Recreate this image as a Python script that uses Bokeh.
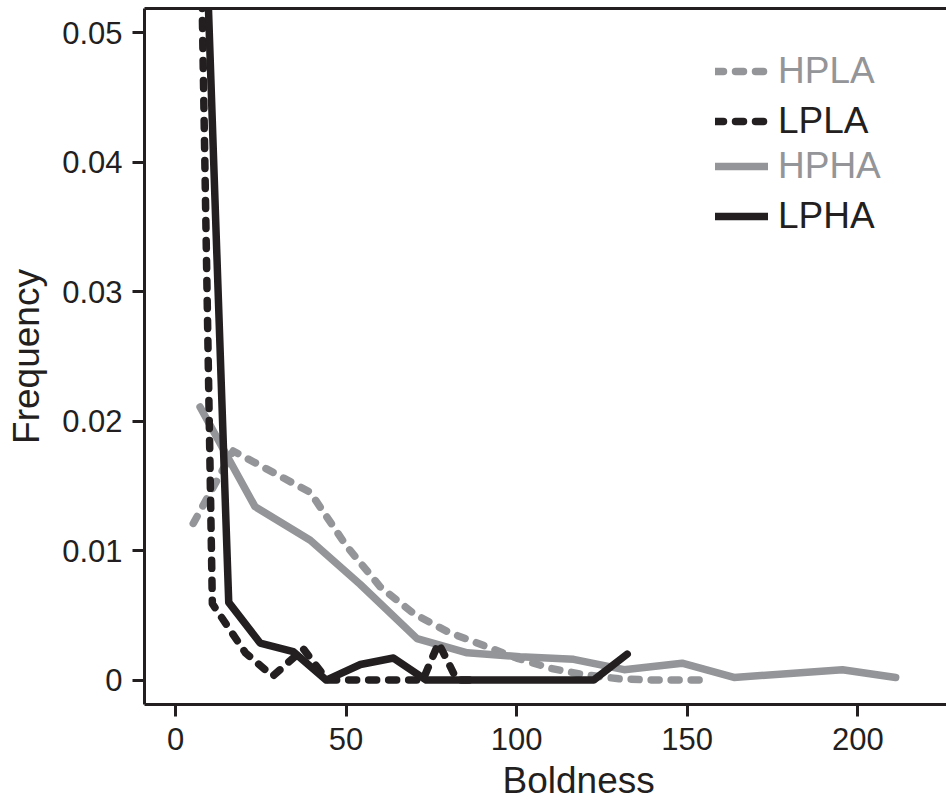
from bokeh.plotting import figure
from bokeh.models import Range1d, LinearAxis, FixedTicker, Legend, LegendItem, Title
from bokeh.embed import file_html
from bokeh.resources import INLINE

# ---- data ----
x_ticks = [0, 50, 100, 150, 200]
y_ticks = [0, 0.01, 0.02, 0.03, 0.04, 0.05]
y_tick_labels = ["0", "0.01", "0.02", "0.03", "0.04", "0.05"]

hpla_x = [5.2, 16.9, 27.5, 39.5, 50, 60, 70, 80, 90, 100, 110, 120, 130, 140, 154]
hpla_y = [0.0121, 0.0177, 0.0162, 0.0145, 0.0104, 0.0072, 0.0051, 0.0037, 0.0027,
          0.0017, 0.0009, 0.0004, 0.0001, 0.0, 0.0]

lpla_x = [6.5, 10.8, 20.5, 28.5, 37.5, 44.5, 54, 64, 72.5, 77.1, 82.5, 88]
lpla_y = [0.0726, 0.0059, 0.0021, 0.0003, 0.0024, 0.0, 0.0, 0.0, 0.0, 0.00286, 0.0, 0.0]

hpha_x = [7.2, 23.3, 39.5, 54.1, 70.8, 85.5, 101, 116.7, 131.5, 148.5, 163.7, 195.5, 211.1]
hpha_y = [0.0211, 0.0134, 0.0108, 0.0074, 0.0032, 0.0021, 0.0018, 0.0016, 0.0008,
          0.0013, 0.0002, 0.0008, 0.0002]

lpha_x = [6.5, 15.6, 24.8, 34.5, 44.2, 54.2, 63.9, 73.5, 83, 93, 103, 113, 122.6, 132.4]
lpha_y = [0.0763, 0.0060, 0.00286, 0.0022, 0.0, 0.0012, 0.0017, 0.0, 0.0, 0.0, 0.0, 0.0,
          0.0, 0.0020]

GREY = "#939598"
BLACK = "#231f20"
FONT = "Liberation Sans"

p = figure(width=946, height=808, output_backend="svg", toolbar_location=None,
           x_range=Range1d(-9.09, 226.0), y_range=Range1d(-0.00189, 0.05189),
           min_border_left=144, min_border_right=0, min_border_top=8, min_border_bottom=104,
           x_axis_type=None, y_axis_type=None)
p.outline_line_color = None
p.grid.visible = False
p.background_fill_color = "white"
p.border_fill_color = "white"

xa = LinearAxis(ticker=FixedTicker(ticks=x_ticks))
ya = LinearAxis(ticker=FixedTicker(ticks=y_ticks),
                major_label_overrides=dict(zip(y_ticks, y_tick_labels)),
                axis_label="Frequency")
ta = LinearAxis(ticker=FixedTicker(ticks=[]))
for ax in (xa, ya, ta):
    ax.axis_line_width = 3
    ax.axis_line_color = BLACK
    ax.major_tick_line_width = 3
    ax.major_tick_line_color = BLACK
    ax.major_tick_in = 0
    ax.major_tick_out = 12
    ax.minor_tick_line_color = None
    ax.major_label_text_font = FONT
    ax.major_label_text_font_size = "31px"
    ax.major_label_text_color = BLACK
    ax.major_label_standoff = 11
    ax.axis_label_text_font = FONT
    ax.axis_label_text_font_size = "37px"
    ax.axis_label_text_font_style = "normal"
    ax.axis_label_text_color = BLACK
ya.major_label_standoff = 10
ya.axis_label_standoff = 12
ta.major_tick_out = 0
ta.major_label_standoff = 0
ta.major_label_text_font_size = "0px"
p.add_layout(xa, "below")
p.add_layout(ya, "left")
p.add_layout(ta, "above")

# x-axis title, placed below the axis (offset from the frame's left edge)
p.add_layout(Title(text="Boldness", align="left", offset=358, standoff=10,
                   text_font=FONT, text_font_size="37px", text_font_style="normal",
                   text_color=BLACK), "below")

W = 7.5
r_hpla = p.line(hpla_x, hpla_y, line_color=GREY, line_width=W, line_dash="8 12",
                line_cap="round", line_join="round")
r_hpha = p.line(hpha_x, hpha_y, line_color=GREY, line_width=W,
                line_cap="round", line_join="round")
r_lpla = p.line(lpla_x, lpla_y, line_color=BLACK, line_width=W, line_dash="8 12",
                line_cap="round", line_join="round")
r_lpha = p.line(lpha_x, lpha_y, line_color=BLACK, line_width=W,
                line_cap="round", line_join="round")

entries = [("HPLA", r_hpla, GREY, 612), ("LPLA", r_lpla, BLACK, 562),
           ("HPHA", r_hpha, GREY, 517), ("LPHA", r_lpha, BLACK, 467)]
for name, r, col, ypos in entries:
    lg = Legend(items=[LegendItem(label=name, renderers=[r])], location=(571, ypos),
                padding=0, margin=0, border_line_color=None, background_fill_alpha=0,
                glyph_width=53, glyph_height=40, label_height=40, label_standoff=10,
                label_text_font=FONT, label_text_font_size="37px", label_text_color=col)
    p.add_layout(lg, "center")

open("out.html", "w").write(file_html(p, INLINE))
